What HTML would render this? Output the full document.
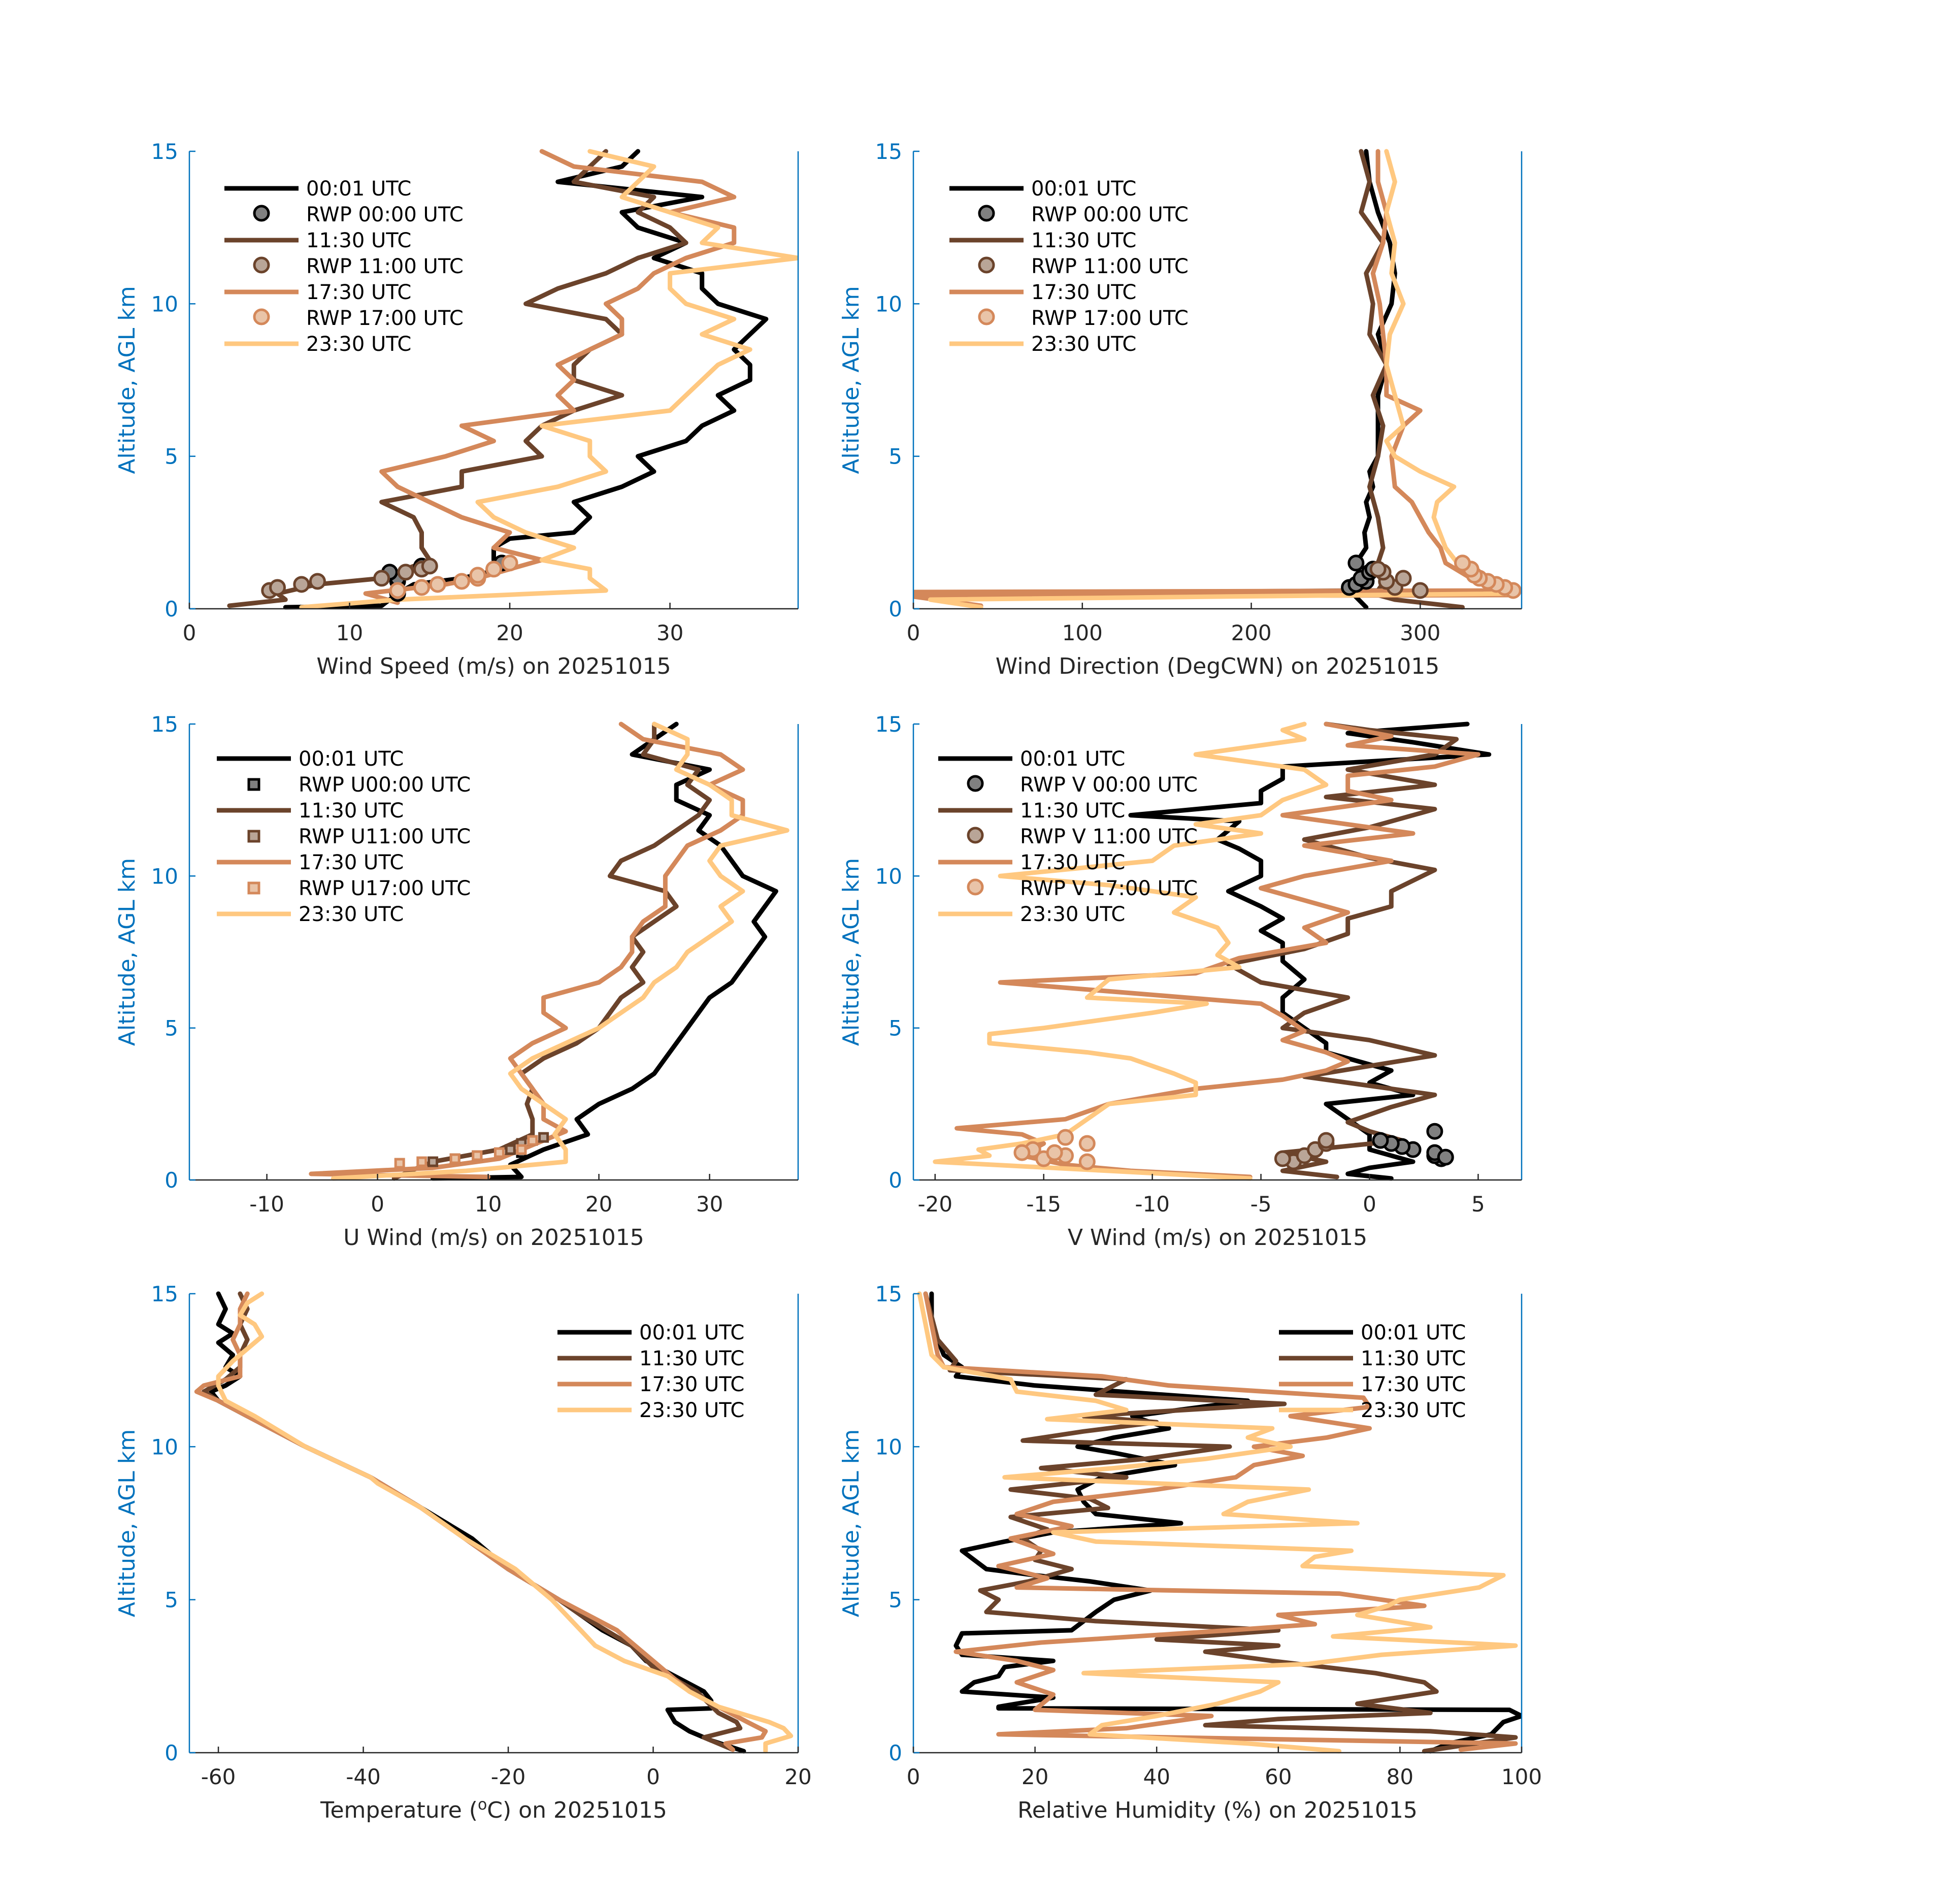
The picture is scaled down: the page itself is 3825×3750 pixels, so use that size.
<!DOCTYPE html>
<html><head><meta charset="utf-8">
<style>
html,body{margin:0;padding:0;background:#fff;}
svg{display:block;font-family:"DejaVu Sans","Liberation Sans",sans-serif;}
</style></head>
<body>
<svg id="fig" width="3825" height="3750" viewBox="0 0 3825 3750" xmlns="http://www.w3.org/2000/svg"></svg>
<script>
// ---------- DATA ----------
const spd0001Alt=[0.05,0.1,0.5,0.8,1.0,1.3,1.6,2.0,2.3,2.5,3,3.5,4,4.5,5,5.5,6,6.5,7,7.5,8,8.5,9,9.5,10,10.5,11,11.5,12,12.5,13,13.5,14,14.5,15];
const spd0001Val=[6,12,13,14,17,19.5,19,19,20,24,25,24,27,29,28,31,32,34,33,35,35,34,35,36,33,32,32,29,31,28,27,32,23,27,28];
const spd1130Alt=[0.1,0.3,0.5,0.8,1.0,1.3,1.6,2,2.5,3,3.5,4,4.5,5,5.5,6,6.5,7,7.5,8,8.5,9,9.5,10,10.5,11,11.5,12,12.5,13,13.5,14,14.5,15];
const spd1130Val=[2.5,6,5.5,8,12,13.5,15,14.5,14.5,14,12,17,17,22,21,22,24,27,24,24,25,27,26,21,23,26,28,31,30,28,29,24,25,26];
const spd1730Alt=[0.2,0.5,0.8,1.0,1.3,1.6,2,2.5,3,3.5,4,4.5,5,5.5,6,6.5,7,7.5,8,8.5,9,9.5,10,10.5,11,11.5,12,12.5,13,13.5,14,14.5,15];
const spd1730Val=[13,11,16,18,20,22,19,20,17,15,13,12,16,19,17,24,23,24,23,25,27,27,26,28,29,31,34,34,30,34,32,24,22];
const spd2330Alt=[0.05,0.3,0.6,1.0,1.3,1.6,2,2.5,3,3.5,4,4.5,5,5.5,6,6.5,7,7.5,8,8.5,9,9.5,10,10.5,11,11.5,12,12.5,13,13.5,14,14.5,15];
const spd2330Val=[7,13,26,25,25,22,24,21,19,18,23,26,25,25,22,30,31,32,33,35,32,34,31,30,30,38,32,33,30,27,28,29,25];
const rwpSpd00Alt=[0.5,0.9,1.0,1.2,1.4,1.5];
const rwpSpd00Val=[13,13,13,12.5,14.5,19.5];
const rwpSpd11Alt=[0.6,0.7,0.8,0.9,1.0,1.2,1.3,1.4];
const rwpSpd11Val=[5,5.5,7,8,12,13.5,14.5,15];
const rwpSpd17Alt=[0.6,0.7,0.8,0.9,1.0,1.1,1.3,1.5];
const rwpSpd17Val=[13,14.5,15.5,17,18,18,19,20];
const dir0001Alt=[0.05,0.5,1,1.5,2,2.5,3,3.5,4,4.5,5,6,7,8,9,10,11,12,13,14,15];
const dir0001Val=[268,260,265,262,268,267,270,268,272,270,275,275,275,280,275,283,285,282,275,270,268];
const dir1130Alt=[0.05,0.3,0.45,0.5,0.6,1,1.5,2,3,4,5,6,7,8,9,10,11,12,13,14,15];
const dir1130Val=[325,285,275,0,275,280,275,278,275,270,275,278,272,280,270,272,268,278,265,270,265];
const dir1730Alt=[0.1,0.4,0.45,0.55,0.6,1,1.5,2,2.5,3,3.5,4,5,6,6.5,7,8,9,10,11,12,13,14,15];
const dir1730Val=[40,0,355,0,355,330,315,312,305,300,295,285,283,290,300,280,280,278,276,272,278,280,275,275];
const dir2330Alt=[0.05,0.3,0.5,1,1.5,2,3,3.5,4,4.5,5,5.5,6,7,8,9,10,11,12,13,14,15];
const dir2330Val=[40,10,355,335,322,315,308,310,320,300,285,280,290,285,280,282,290,283,285,280,285,280];
const rwpDir00Alt=[0.7,0.8,0.9,1.0,1.2,1.3,1.5];
const rwpDir00Val=[258,262,268,265,270,272,262];
const rwpDir11Alt=[0.6,0.7,0.9,1.0,1.2,1.3];
const rwpDir11Val=[300,285,280,290,278,275];
const rwpDir17Alt=[0.6,0.7,0.8,0.9,1.0,1.1,1.3,1.5];
const rwpDir17Val=[355,350,345,340,335,332,330,325];
const u0001Alt=[0.05,0.1,0.5,1,1.5,2,2.5,3,3.5,4,4.5,5,5.5,6,6.5,7,7.5,8,8.5,9,9.5,10,10.5,11,11.5,12,12.5,13,13.5,14,14.5,15];
const u0001Val=[5,13,12,15,19,18,20,23,25,26,27,28,29,30,32,33,34,35,34,35,36,33,32,31,29,30,27,27,30,23,25,27];
const u1130Alt=[0.05,0.3,0.6,1,1.5,2,2.5,3,3.5,4,4.5,5,5.5,6,6.5,7,7.5,8,8.5,9,9.5,10,10.5,11,11.5,12,12.5,13,13.5,14,14.5,15];
const u1130Val=[1.5,3,5,11,14,14,13.5,14,13,15,18,20,21,22,24,23,24,23,25,27,26,21,22,25,27,29,30,28,29,24,25,25];
const u1730Alt=[0.1,0.2,0.4,0.7,1,1.3,1.6,2,2.5,3,3.5,4,4.5,5,5.5,6,6.5,7,7.5,8,8.5,9,9.5,10,10.5,11,11.5,12,12.5,13,13.5,14,14.5,15];
const u1730Val=[10,-6,5,11,13,15,17,15,15,14,13,12,14,17,15,15,20,22,23,23,24,26,26,26,27,28,31,33,33,30,33,31,24,22];
const u2330Alt=[0.05,0.3,0.6,1,1.5,2,2.5,3,3.5,4,4.5,5,5.5,6,6.5,7,7.5,8,8.5,9,9.5,10,10.5,11,11.5,12,12.5,13,13.5,14,14.5,15];
const u2330Val=[-4,8,17,17,16,17,15,13,12,14,17,20,22,24,25,27,28,30,32,31,33,31,30,31,37,32,32,30,27,28,28,25];
const rwpU00Alt=[0.9,1.0,1.2];
const rwpU00Val=[13,12,13];
const rwpU11Alt=[0.6,0.7,0.8,1.0,1.2,1.3,1.4];
const rwpU11Val=[5,7,9,12,13,14,15];
const rwpU17Alt=[0.55,0.6,0.7,0.8,0.9,1.0,1.3];
const rwpU17Val=[2,4,7,9,11,13,14];
const v0001Alt=[0.05,0.2,0.4,0.6,0.8,1,1.5,2,2.5,2.8,3.2,3.6,4,4.2,4.5,5,5.5,6,6.6,7.2,7.8,8.2,8.6,9,9.5,10,10.5,10.9,11.2,11.8,12,12.4,12.8,13.2,13.6,14,14.4,14.7,15];
const v0001Val=[1,-1,0,2,1,0,0,-1,-2,2,0,1,-1,-2,-2,-3,-4,-4,-3,-4,-4,-5,-4,-5,-6.5,-5,-5,-6,-7,-6,-11,-5,-5,-4,-4,5.5,2,-1,4.5];
const v1130Alt=[0.1,0.3,0.6,0.9,1.3,1.6,1.9,2.4,2.8,3.4,4.1,4.6,5,5.5,6,6.5,7.1,7.6,8.1,8.6,9,9.5,10.2,10.6,11.2,11.6,12.2,12.6,13,13.5,14,14.5,14.8,15];
const v1130Val=[-1.5,-4,-2,-4,1.5,0,-1,1,3,-3,3,0,-4,-3,-1,-5,-6.5,-3,-1,-1,1,1,3,0,-3,0,3,-2,3,-1,3,4,0,-2];
const v1730Alt=[0.1,0.3,0.5,0.8,1.2,1.5,1.7,2,2.5,3,3.3,3.6,3.9,4.2,4.6,4.9,5.4,5.8,6.5,6.8,7.3,7.8,8.3,8.8,9.2,9.6,10,10.5,11,11.4,12,12.5,12.8,13.3,13.6,14,14.3,14.6,15];
const v1730Val=[-5.5,-11,-14,-16,-15,-16,-19,-14,-12,-8,-4,-2,-1,-2,-4,-3,-4,-5,-17,-8,-6,-2,-3,-1,-3,-5,-3,1,-3,2,-4,1,-1,-1,3,5,-1,1,-2];
const v2330Alt=[0.05,0.3,0.6,0.8,1,1.2,1.5,2,2.5,2.8,3.2,3.5,4,4.2,4.5,4.8,5,5.5,5.8,6,6.6,7,7.4,7.8,8.3,8.8,9.3,9.7,10,10.5,11,11.4,11.7,12,12.5,13,13.5,14,14.5,14.8,15];
const v2330Val=[-5.5,-12,-20,-17.5,-18,-16,-14,-13,-12,-8,-8,-9,-11,-13,-17.5,-17.5,-15,-10,-7.5,-13,-12,-6,-7,-6.5,-7,-9,-8,-12,-17,-10,-9,-5,-8,-5,-4,-2,-3,-8,-3,-4,-3];
const rwpV00Alt=[0.7,0.8,0.9,1.0,1.1,1.2,1.3,1.6,0.75];
const rwpV00Val=[3.3,3,3,2,1.5,1,0.5,3,3.5];
const rwpV11Alt=[0.6,0.7,0.8,1.0,1.2,1.3];
const rwpV11Val=[-3.5,-4,-3,-2.5,-2,-2];
const rwpV17Alt=[0.6,0.7,0.8,0.9,1.0,1.2,1.4,0.9];
const rwpV17Val=[-13,-15,-14,-14.5,-15.5,-13,-14,-16];
const t0001Alt=[0.05,0.4,0.7,1.0,1.4,1.45,1.7,2,2.5,3,3.5,4,5,6,7,8,9,10,11,11.5,11.8,12,12.3,12.6,13,13.4,13.7,14,14.5,15];
const t0001Val=[12.5,8,5,3,2,8,8,7,3,-1,-3,-7,-13,-20,-25,-32,-39,-48,-56,-60,-61,-59,-57,-59,-58,-60,-58,-60,-59,-60];
const t1130Alt=[0.1,0.5,0.8,1.0,1.3,2,2.8,3.5,4.5,5,6,7,8,9,10,11,11.5,11.8,12.2,12.6,13,13.5,14,14.5,15];
const t1130Val=[11,7,12,11.5,9,6,0,-3,-10,-13,-20,-26,-32,-39,-48,-56,-60,-62,-59,-57,-57,-56,-57,-56,-57];
const t1730Alt=[0.1,0.3,0.5,0.7,1.0,1.5,2,3,4,5,6,7,8,9,10,11,11.5,11.8,12,12.3,13,13.5,14,14.5,15];
const t1730Val=[11,10,15,15.5,13,9,5,0,-5,-13,-20,-26,-32,-39,-48,-56,-60,-63,-62,-57,-57,-58,-57,-57,-56];
const t2330Alt=[0.05,0.3,0.55,0.8,1.0,1.5,2,2.5,3,3.5,4,5,6,7,8,8.8,9,10,11,11.5,12,12.3,12.8,13.2,13.6,14,14.3,14.7,15];
const t2330Val=[15.5,15.5,19,18,16,9,5,2,-4,-8,-10,-14,-19,-26,-32,-38,-39,-48,-55,-59,-60,-60,-58,-56,-54,-55,-57,-56,-54];
const rh0001Alt=[0.05,0.3,0.6,1.0,1.2,1.4,1.45,1.5,1.8,2.0,2.3,2.5,2.8,3.0,3.2,3.5,3.9,4.0,4.3,4.6,5.0,5.3,5.6,5.8,6.0,6.3,6.6,6.9,7.2,7.5,7.8,8.2,8.6,9.0,9.4,9.8,10.0,10.3,10.6,11,11.5,12.0,12.3,12.6,13,14,15];
const rh0001Val=[85,88,95,97,100,98,14,14,23,8,10,14,15,23,8,7,8,26,28,30,33,39,29,20,12,10,8,15,23,44,30,28,27,31,43,33,27,33,42,36,55,20,7,8,5,3,3];
const rh1130Alt=[0.05,0.5,0.7,0.9,1.1,1.3,1.6,2.0,2.3,2.6,3.0,3.3,3.5,3.7,4.0,4.3,4.6,5.0,5.3,5.6,6.0,6.3,6.6,7.0,7.3,7.7,8.0,8.3,8.6,9.0,9.3,9.6,10,10.2,10.5,10.8,11.0,11.4,11.7,12.2,12.5,12.8,13.5,15];
const rh1130Val=[84,99,85,48,60,85,73,86,84,76,59,48,60,40,60,30,12,14,11,19,26,20,21,18,22,16,32,29,16,35,21,38,52,18,28,40,28,61,30,35,6,7,4,2];
const rh1730Alt=[0.1,0.3,0.6,0.8,1.2,1.4,1.9,2.3,2.7,3.0,3.3,3.6,4.0,4.2,4.5,4.8,5.2,5.4,5.7,6.1,6.5,7.0,7.4,7.8,8.2,8.6,9.0,9.4,9.7,10.0,10.3,10.6,11.0,11.3,11.6,12.0,12.3,12.6,13,14,15];
const rh1730Val=[90,99,14,35,49,20,23,17,23,17,7,21,52,66,60,84,70,17,22,14,23,16,26,17,23,40,53,56,64,56,68,75,62,75,74,42,31,5,4,3,2];
const rh2330Alt=[0.05,0.3,0.6,0.9,1.2,1.6,2.0,2.3,2.6,2.9,3.2,3.5,3.8,4.1,4.5,4.8,5.0,5.4,5.8,6.1,6.4,6.6,6.9,7.2,7.5,7.8,8.2,8.6,9.0,9.3,9.6,10.0,10.3,10.6,10.9,11.2,11.5,11.8,12.2,12.6,13,14,15];
const rh2330Val=[70,55,29,31,40,50,57,60,28,65,77,99,69,85,73,78,80,93,97,64,66,72,30,23,73,51,55,65,15,33,48,62,55,59,22,35,30,17,16,5,3,2,1];
const altTicks=[0,5,10,15];
const spdTicks=[0,10,20,30];
const dirTicks=[0,100,200,300];
const uTicks=[-10,0,10,20,30];
const vTicks=[-20,-15,-10,-5,0,5];
const tTicks=[-60,-40,-20,0,20];
const rhTicks=[0,20,40,60,80,100];

const C={k:"#000000",b:"#6b432b",o:"#d4885a",y:"#ffc880"};
const F={k:"#808080",b:"#b9a597",o:"#e9c4a8"};
const NS="http://www.w3.org/2000/svg";
const svg=document.getElementById('fig');
function mk(tag,attrs,parent){const e=document.createElementNS(NS,tag);for(const k in attrs)e.setAttribute(k,attrs[k]);(parent||svg).appendChild(e);return e;}

function panel(cfg){
  const g=mk('g',{});
  
  
  const L=cfg.L,R=cfg.R,T=cfg.T,B=cfg.B;
  const sx=v=>L+(v-cfg.xlim[0])/(cfg.xlim[1]-cfg.xlim[0])*(R-L);
  const sy=a=>B-(a-0)/15*(B-T);
  const clip='clip-'+cfg.name;
  const cp=mk('clipPath',{id:clip},g);mk('rect',{x:L,y:T-5,width:R-L,height:B-T+10},cp);
  const plot=mk('g',{'clip-path':'url(#'+clip+')'},g);
  
  
  cfg.lines.forEach(s=>{
    const p=mk('polyline',{points:s.alt.map((a,i)=>sx(s.val[i]).toFixed(1)+','+sy(a).toFixed(1)).join(' '),fill:'none',stroke:s.c,'stroke-width':9,'stroke-linejoin':'round','stroke-linecap':'round'},plot);
    
    
  });
  (cfg.marks||[]).forEach(m=>{
    m.alt.forEach((a,i)=>{
      let e;
      if(m.sq){e=mk('rect',{x:sx(m.val[i])-8,y:sy(a)-8,width:16,height:16,fill:m.f,stroke:m.c,'stroke-width':5},plot);}
      else{e=mk('circle',{cx:sx(m.val[i]),cy:sy(a),r:14,fill:m.f,stroke:m.c,'stroke-width':5},plot);}
      
      
    });
  });
  const ax=mk('line',{x1:L,y1:T,x2:L,y2:B,stroke:'#0072bd','stroke-width':2.5},g);
  
  
  const ax2=mk('line',{x1:R,y1:T,x2:R,y2:B,stroke:'#0072bd','stroke-width':2.5},g);
  
  
  const xa=mk('line',{x1:L,y1:B,x2:R,y2:B,stroke:'#262626','stroke-width':2.5},g);
  
  
  altTicks.forEach(t=>{
    mk('line',{x1:L,y1:sy(t),x2:L+12,y2:sy(t),stroke:'#0072bd','stroke-width':2.5},g);
    const tx=mk('text',{x:L-22,y:sy(t)+15,'text-anchor':'end','font-size':42,fill:'#0072bd'},g);
    tx.textContent=t;
    
    
  });
  cfg.ticks.forEach(t=>{
    mk('line',{x1:sx(t),y1:B,x2:sx(t),y2:B-12,stroke:'#262626','stroke-width':2.5},g);
    const tx=mk('text',{x:sx(t),y:B+62,'text-anchor':'middle','font-size':42,fill:'#262626'},g);
    tx.textContent=t;
    
    
  });
  const yl=mk('text',{x:0,y:0,transform:'translate('+(L-108)+','+((T+B)/2)+') rotate(-90)','text-anchor':'middle','font-size':44,fill:'#0072bd'},g);
  yl.textContent='Altitude, AGL km';
  
  
  const xl=mk('text',{x:(L+R)/2,y:B+128,'text-anchor':'middle','font-size':44,fill:'#262626'},g);
  if(cfg.xhtml){xl.innerHTML=cfg.xhtml;}else{xl.textContent=cfg.xlabel;}
  
  
  const lg=mk('g',{},g);
  
  
  cfg.legend.forEach((it,i)=>{
    const y=cfg.lgY+i*51;
    const x0=cfg.lgX;
    if(it.line){mk('line',{x1:x0,y1:y,x2:x0+146,y2:y,stroke:it.c,'stroke-width':9},lg);}
    else if(it.sq){mk('rect',{x:x0+63,y:y-10,width:20,height:20,fill:it.f,stroke:it.c,'stroke-width':5},lg);}
    else{mk('circle',{cx:x0+73,cy:y-2,r:14,fill:it.f,stroke:it.c,'stroke-width':5},lg);}
    const tx=mk('text',{x:x0+161,y:y+14,'font-size':40,fill:'#000'},lg);
    tx.textContent=it.t;
    
    
  });
}

const C1L=373,C1R=1572,C2L=1799,C2R=2997;
const R1T=298,R1B=1199,R2T=1426,R2B=2324,R3T=2548,R3B=3452;
const four=()=>[{t:'00:01 UTC',c:C.k,line:1},{t:'11:30 UTC',c:C.b,line:1},{t:'17:30 UTC',c:C.o,line:1},{t:'23:30 UTC',c:C.y,line:1}];

panel({name:'wind-speed-panel',L:C1L,R:C1R,T:R1T,B:R1B,xlim:[0,38],ticks:spdTicks,xlabel:'Wind Speed (m/s) on 20251015',
 lines:[{id:'speed-0001',alt:spd0001Alt,val:spd0001Val,c:C.k},{id:'speed-1130',alt:spd1130Alt,val:spd1130Val,c:C.b},{id:'speed-1730',alt:spd1730Alt,val:spd1730Val,c:C.o},{id:'speed-2330',alt:spd2330Alt,val:spd2330Val,c:C.y}],
 marks:[{id:'rwp-speed-00',alt:rwpSpd00Alt,val:rwpSpd00Val,c:C.k,f:F.k},{id:'rwp-speed-11',alt:rwpSpd11Alt,val:rwpSpd11Val,c:C.b,f:F.b},{id:'rwp-speed-17',alt:rwpSpd17Alt,val:rwpSpd17Val,c:C.o,f:F.o}],
 lgX:442,lgY:371,legend:[{t:'00:01 UTC',c:C.k,line:1},{t:'RWP 00:00 UTC',c:C.k,f:F.k},{t:'11:30 UTC',c:C.b,line:1},{t:'RWP 11:00 UTC',c:C.b,f:F.b},{t:'17:30 UTC',c:C.o,line:1},{t:'RWP 17:00 UTC',c:C.o,f:F.o},{t:'23:30 UTC',c:C.y,line:1}]});

panel({name:'wind-direction-panel',L:C2L,R:C2R,T:R1T,B:R1B,xlim:[0,360],ticks:dirTicks,xlabel:'Wind Direction (DegCWN) on 20251015',
 lines:[{id:'dir-0001',alt:dir0001Alt,val:dir0001Val,c:C.k},{id:'dir-1130',alt:dir1130Alt,val:dir1130Val,c:C.b},{id:'dir-1730',alt:dir1730Alt,val:dir1730Val,c:C.o},{id:'dir-2330',alt:dir2330Alt,val:dir2330Val,c:C.y}],
 marks:[{id:'rwp-dir-00',alt:rwpDir00Alt,val:rwpDir00Val,c:C.k,f:F.k},{id:'rwp-dir-11',alt:rwpDir11Alt,val:rwpDir11Val,c:C.b,f:F.b},{id:'rwp-dir-17',alt:rwpDir17Alt,val:rwpDir17Val,c:C.o,f:F.o}],
 lgX:1870,lgY:371,legend:[{t:'00:01 UTC',c:C.k,line:1},{t:'RWP 00:00 UTC',c:C.k,f:F.k},{t:'11:30 UTC',c:C.b,line:1},{t:'RWP 11:00 UTC',c:C.b,f:F.b},{t:'17:30 UTC',c:C.o,line:1},{t:'RWP 17:00 UTC',c:C.o,f:F.o},{t:'23:30 UTC',c:C.y,line:1}]});

panel({name:'u-wind-panel',L:C1L,R:C1R,T:R2T,B:R2B,xlim:[-17,38],ticks:uTicks,xlabel:'U Wind (m/s) on 20251015',
 lines:[{id:'u-0001',alt:u0001Alt,val:u0001Val,c:C.k},{id:'u-1130',alt:u1130Alt,val:u1130Val,c:C.b},{id:'u-1730',alt:u1730Alt,val:u1730Val,c:C.o},{id:'u-2330',alt:u2330Alt,val:u2330Val,c:C.y}],
 marks:[{id:'rwp-u-00',alt:rwpU00Alt,val:rwpU00Val,c:C.k,f:F.k,sq:1},{id:'rwp-u-11',alt:rwpU11Alt,val:rwpU11Val,c:C.b,f:F.b,sq:1},{id:'rwp-u-17',alt:rwpU17Alt,val:rwpU17Val,c:C.o,f:F.o,sq:1}],
 lgX:427,lgY:1494,legend:[{t:'00:01 UTC',c:C.k,line:1},{t:'RWP U00:00 UTC',c:C.k,f:F.k,sq:1},{t:'11:30 UTC',c:C.b,line:1},{t:'RWP U11:00 UTC',c:C.b,f:F.b,sq:1},{t:'17:30 UTC',c:C.o,line:1},{t:'RWP U17:00 UTC',c:C.o,f:F.o,sq:1},{t:'23:30 UTC',c:C.y,line:1}]});

panel({name:'v-wind-panel',L:C2L,R:C2R,T:R2T,B:R2B,xlim:[-21,7],ticks:vTicks,xlabel:'V Wind (m/s) on 20251015',
 lines:[{id:'v-0001',alt:v0001Alt,val:v0001Val,c:C.k},{id:'v-1130',alt:v1130Alt,val:v1130Val,c:C.b},{id:'v-1730',alt:v1730Alt,val:v1730Val,c:C.o},{id:'v-2330',alt:v2330Alt,val:v2330Val,c:C.y}],
 marks:[{id:'rwp-v-00',alt:rwpV00Alt,val:rwpV00Val,c:C.k,f:F.k},{id:'rwp-v-11',alt:rwpV11Alt,val:rwpV11Val,c:C.b,f:F.b},{id:'rwp-v-17',alt:rwpV17Alt,val:rwpV17Val,c:C.o,f:F.o}],
 lgX:1848,lgY:1494,legend:[{t:'00:01 UTC',c:C.k,line:1},{t:'RWP V 00:00 UTC',c:C.k,f:F.k},{t:'11:30 UTC',c:C.b,line:1},{t:'RWP V 11:00 UTC',c:C.b,f:F.b},{t:'17:30 UTC',c:C.o,line:1},{t:'RWP V 17:00 UTC',c:C.o,f:F.o},{t:'23:30 UTC',c:C.y,line:1}]});

panel({name:'temperature-panel',L:C1L,R:C1R,T:R3T,B:R3B,xlim:[-64,20],ticks:tTicks,xhtml:'Temperature (<tspan font-size="30" dy="-16">o</tspan><tspan dy="16">C) on 20251015</tspan>',
 lines:[{id:'temp-0001',alt:t0001Alt,val:t0001Val,c:C.k},{id:'temp-1130',alt:t1130Alt,val:t1130Val,c:C.b},{id:'temp-1730',alt:t1730Alt,val:t1730Val,c:C.o},{id:'temp-2330',alt:t2330Alt,val:t2330Val,c:C.y}],
 lgX:1098,lgY:2624,legend:four()});

panel({name:'humidity-panel',L:C2L,R:C2R,T:R3T,B:R3B,xlim:[0,100],ticks:rhTicks,xlabel:'Relative Humidity (%) on 20251015',
 lines:[{id:'rh-0001',alt:rh0001Alt,val:rh0001Val,c:C.k},{id:'rh-1130',alt:rh1130Alt,val:rh1130Val,c:C.b},{id:'rh-1730',alt:rh1730Alt,val:rh1730Val,c:C.o},{id:'rh-2330',alt:rh2330Alt,val:rh2330Val,c:C.y}],
 lgX:2519,lgY:2624,legend:four()});
</script>
</body></html>
